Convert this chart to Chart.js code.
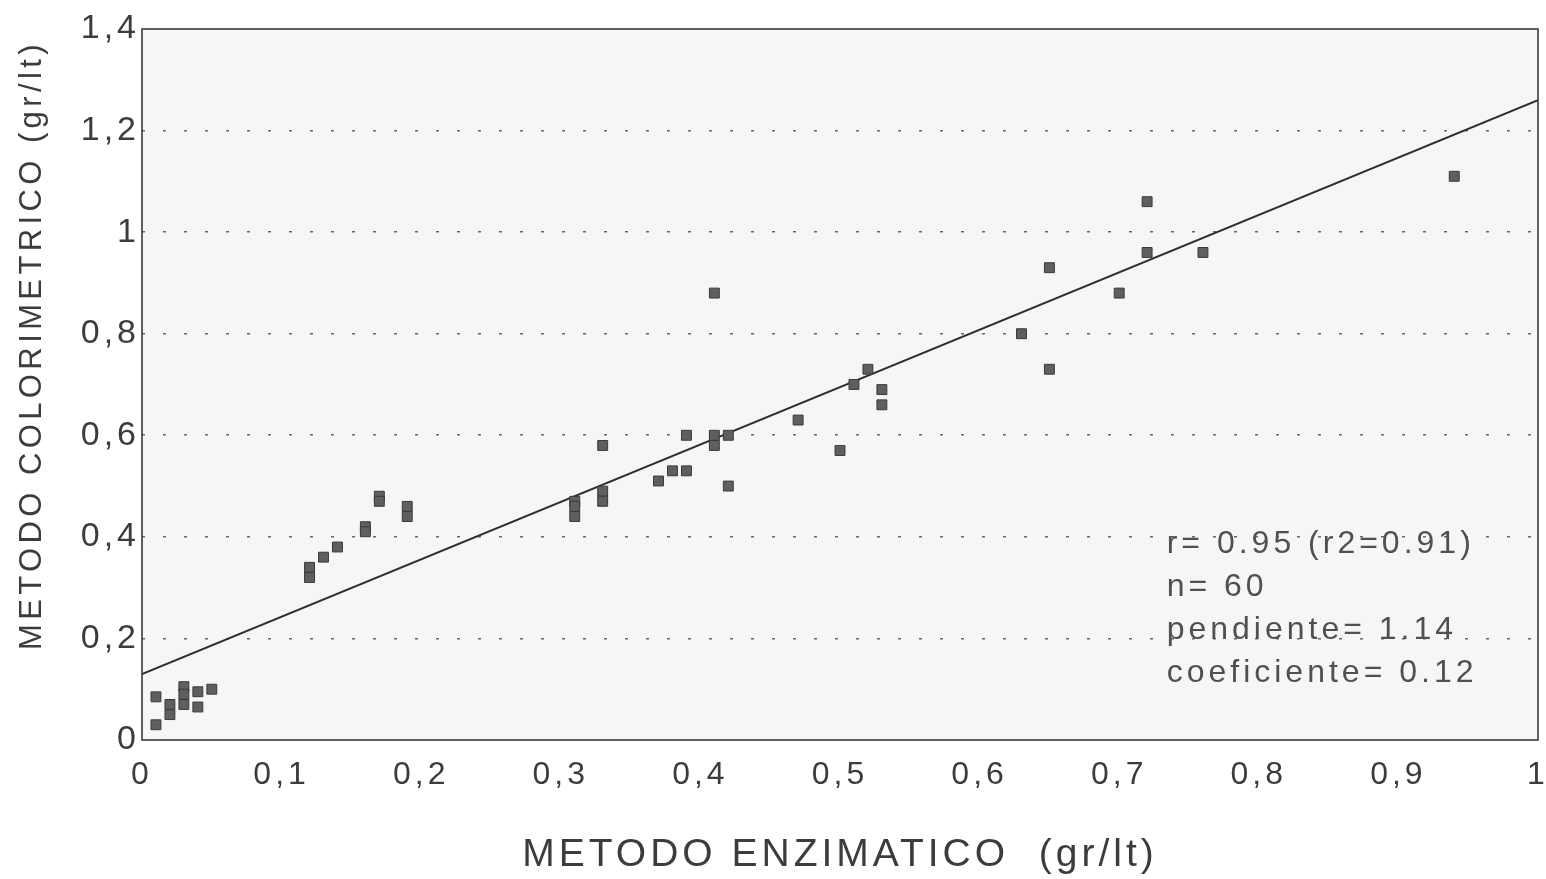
<!DOCTYPE html>
<html>
<head>
<meta charset="utf-8">
<script src="https://cdn.jsdelivr.net/npm/chart.js@4"></script>
<style>
  html, body { margin: 0; padding: 0; background: #ffffff; }
  #wrap { width: 1546px; height: 879px; position: relative; }
</style>
</head>
<body>
<div id="wrap"><canvas id="c" width="1546" height="879"></canvas></div>
<script>
// ---- data ----
const enzimatico = [
  0.01, 0.01, 0.02, 0.02, 0.03, 0.03, 0.03, 0.04, 0.04, 0.05,
  0.12, 0.12, 0.13, 0.14, 0.16, 0.16, 0.17, 0.17, 0.19, 0.19,
  0.31, 0.31, 0.31, 0.33, 0.33, 0.33, 0.37, 0.38, 0.39, 0.39, 0.41, 0.41, 0.42, 0.42, 0.41,
  0.47, 0.50, 0.51, 0.52, 0.53, 0.53,
  0.63, 0.65, 0.65, 0.70, 0.72, 0.72, 0.76, 0.94
];
const colorimetrico = [
  0.085, 0.03, 0.07, 0.05, 0.105, 0.09, 0.07, 0.095, 0.065, 0.10,
  0.34, 0.32, 0.36, 0.38, 0.42, 0.41, 0.48, 0.47, 0.46, 0.44,
  0.47, 0.46, 0.44, 0.58, 0.49, 0.47, 0.51, 0.53, 0.53, 0.60, 0.60, 0.58, 0.60, 0.50, 0.88,
  0.63, 0.57, 0.70, 0.73, 0.69, 0.66,
  0.80, 0.93, 0.73, 0.88, 1.06, 0.96, 0.96, 1.11
];
// regression line end points (as drawn)
const lineX = [0, 1];
const lineY = [0.13, 1.26];

const xTickValues = [0, 0.1, 0.2, 0.3, 0.4, 0.5, 0.6, 0.7, 0.8, 0.9, 1];
const xTickLabels = ['0', '0,1', '0,2', '0,3', '0,4', '0,5', '0,6', '0,7', '0,8', '0,9', '1'];
const yTickValues = [0, 0.2, 0.4, 0.6, 0.8, 1, 1.2, 1.4];
const yTickLabels = ['0', '0,2', '0,4', '0,6', '0,8', '1', '1,2', '1,4'];

const xTitle = 'METODO ENZIMATICO  (gr/lt)';
const yTitle = 'METODO COLORIMETRICO (gr/lt)';
const statsLines = ['r= 0.95 (r2=0.91)', 'n= 60', 'pendiente= 1.14', 'coeficiente= 0.12'];

const FONT = '"Liberation Sans", Arial, Helvetica, sans-serif';
const TEXT = '#3c3c3c';

const decor = {
  id: 'decor',
  beforeDraw(chart) {
    const { ctx, chartArea: a } = chart;
    ctx.letterSpacing = '4px';
    ctx.save();
    ctx.fillStyle = '#f6f6f6';
    ctx.fillRect(a.left, a.top, a.right - a.left, a.bottom - a.top);
    ctx.restore();
  },
  beforeDatasetsDraw(chart) {
    chart.ctx.letterSpacing = '0px';
  },
  afterDraw(chart) {
    const { ctx, chartArea: a, scales } = chart;
    ctx.save();
    ctx.setLineDash([]);
    ctx.strokeStyle = '#3a3a3a';
    ctx.lineWidth = 1.6;
    ctx.strokeRect(a.left, a.top, a.right - a.left, a.bottom - a.top);

    // y axis title
    ctx.fillStyle = TEXT;
    ctx.font = '31px ' + FONT;
    ctx.letterSpacing = '4.4px';
    ctx.textAlign = 'center';
    ctx.textBaseline = 'middle';
    ctx.translate(32, 345);
    ctx.rotate(-Math.PI / 2);
    ctx.fillText(yTitle, 0, 0);
    ctx.restore();

    // statistics text
    ctx.save();
    ctx.fillStyle = '#505050';
    ctx.font = '32px ' + FONT;
    ctx.letterSpacing = '4px';
    ctx.textAlign = 'left';
    ctx.textBaseline = 'middle';
    const x0 = scales.x.getPixelForValue(0.734);
    const y0 = scales.y.getPixelForValue(0.385);
    statsLines.forEach((t, i) => ctx.fillText(t, x0, y0 + i * 43));
    ctx.restore();
  }
};

new Chart(document.getElementById('c'), {
  type: 'scatter',
  data: {
    datasets: [
      {
        label: 'datos',
        data: enzimatico.map((x, i) => ({ x: x, y: colorimetrico[i] })),
        pointStyle: 'rect',
        pointRadius: 7,
        backgroundColor: '#5f5f5f',
        borderColor: '#3a3a3a',
        borderWidth: 1,
        showLine: false
      },
      {
        label: 'regresion',
        type: 'line',
        data: lineX.map((x, i) => ({ x: x, y: lineY[i] })),
        borderColor: '#2e2e2e',
        borderWidth: 2,
        pointRadius: 0,
        fill: false,
        tension: 0
      }
    ]
  },
  options: {
    responsive: false,
    devicePixelRatio: 1,
    animation: false,
    layout: { padding: { top: 29, right: 4, left: 0, bottom: 0 } },
    plugins: { legend: { display: false }, tooltip: { enabled: false } },
    scales: {
      x: {
        type: 'linear',
        min: 0, max: 1,
        afterBuildTicks: s => { s.ticks = xTickValues.map(v => ({ value: v })); },
        afterFit: s => { s.height = 139; s.paddingLeft = 0; s.paddingRight = 0; },
        ticks: {
          autoSkip: false, maxRotation: 0, padding: 16,
          color: TEXT,
          font: { family: FONT, size: 32 },
          callback: (v, i) => xTickLabels[i]
        },
        grid: { display: false, drawTicks: false },
        border: { display: false },
        title: {
          display: true, text: xTitle, color: TEXT,
          font: { family: FONT, size: 39 },
          padding: { top: 0, bottom: 0 }
        }
      },
      y: {
        type: 'linear',
        min: 0, max: 1.4,
        afterBuildTicks: s => { s.ticks = yTickValues.map(v => ({ value: v })); },
        afterFit: s => { s.width = 142; s.paddingTop = 0; s.paddingBottom = 0; },
        ticks: {
          autoSkip: false, padding: 2,
          color: TEXT,
          font: { family: FONT, size: 34 },
          callback: (v, i) => yTickLabels[i]
        },
        grid: {
          drawTicks: false,
          lineWidth: 1.6,
          color: c => (c.tick && c.tick.value > 0.01 && c.tick.value < 1.39) ? '#666666' : 'rgba(0,0,0,0)'
        },
        border: { display: false, dash: [3, 18] }
      }
    }
  },
  plugins: [decor]
});
</script>
</body>
</html>
